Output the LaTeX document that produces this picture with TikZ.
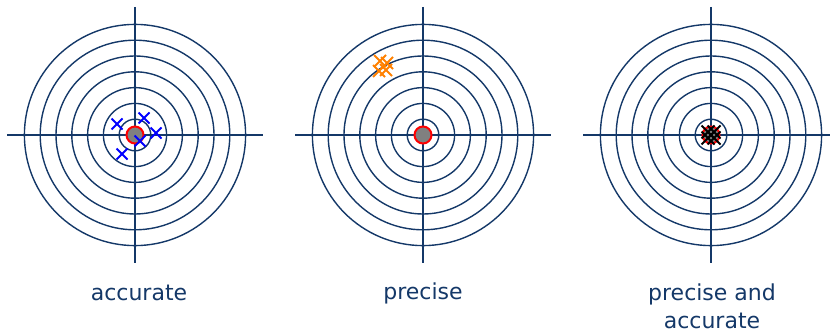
\documentclass[tikz,border=0pt]{standalone}
\usepackage{fontspec}
\setmainfont{DejaVu Sans}
\usetikzlibrary{positioning}
\definecolor{navy}{RGB}{20,56,104}
\definecolor{hitorange}{RGB}{255,128,0}
\newcommand\shotmark[4]{% x, y, half size, colour
  \draw[shot,#4] ({#1-#3},{#2-#3}) -- ({#1+#3},{#2+#3}) ({#1-#3},{#2+#3}) -- ({#1+#3},{#2-#3});}

\begin{document}
\begin{tikzpicture}[x=1pt, y=-1pt,
  ring/.style={draw=navy, line width=1.4pt},
  axis/.style={draw=navy, line width=1.6pt},
  bull/.style={circle, draw=red, fill=gray, line width=2pt, minimum size=17pt, inner sep=0pt},
  lbl/.style={text=navy, font=\fontsize{22}{28}\selectfont, align=center},
  shot/.style={line width=1.8pt}]
\useasboundingbox (0,0) rectangle (830,334);
% three targets
\foreach \cx/\tname in {135/acc, 423/pre, 711/both}{
  \foreach \r in {15.8,31.6,47.4,63.2,79,94.8,110.6}
    \draw[ring] (\cx,135) circle[radius=\r pt];
  \draw[axis] (\cx-128,135) -- (\cx+128,135) (\cx,7) -- (\cx,263);
  \node[bull] (bull\tname) at (\cx,135) {};
}
% hits
\shotmark{117}{124}{5.5}{blue}
\shotmark{144}{118}{5.5}{blue}
\shotmark{156}{133}{5.5}{blue}
\shotmark{140}{141}{5.5}{blue}
\shotmark{122}{154}{5.5}{blue}
\shotmark{380}{61}{6}{hitorange}
\shotmark{387}{63}{6}{hitorange}
\shotmark{379}{71}{6}{hitorange}
\shotmark{386}{70}{6}{hitorange}
\shotmark{708}{132}{6.5}{black}
\shotmark{714}{132}{6.5}{black}
\shotmark{708}{138}{6.5}{black}
\shotmark{714}{138}{6.5}{black}
% captions
\node[lbl] (capacc) at (139,293) {accurate};
\node[lbl] (cappre) at (423,293) {precise};
\node[lbl] (capboth) at (712,306) {precise and\\ accurate};
\end{tikzpicture}
\end{document}
